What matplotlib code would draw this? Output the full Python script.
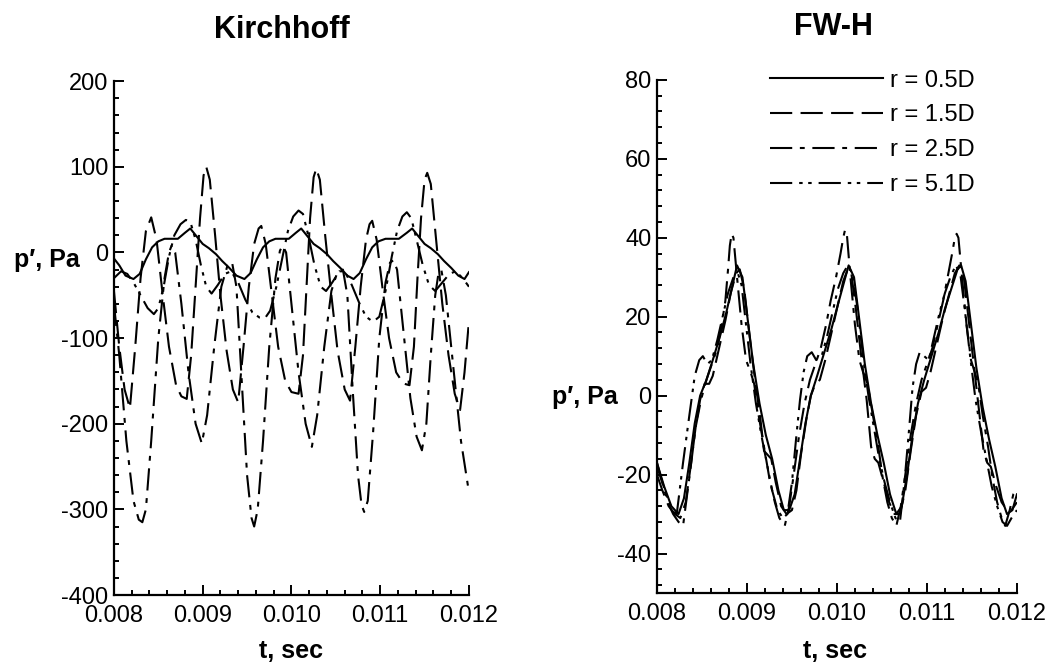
import matplotlib
matplotlib.use('Agg')
import matplotlib.pyplot as plt
from matplotlib.ticker import MultipleLocator, FormatStrFormatter

plt.rcParams['font.family'] = ['Liberation Sans', 'DejaVu Sans']
plt.rcParams['axes.unicode_minus'] = False
plt.rcParams['lines.scale_dashes'] = False

labels = ['r = 0.5D', 'r = 1.5D', 'r = 2.5D', 'r = 5.1D']

# ---- Kirchhoff panel (t in s, p' in Pa) ----
k_t_05 = [0.00800, 0.00806, 0.00813, 0.00822, 0.00829, 0.00836, 0.00843, 0.00850, 0.00857, 0.00865,
          0.00872, 0.00880, 0.00886, 0.00893, 0.00900, 0.00907, 0.00915, 0.00922, 0.00930, 0.00938,
          0.00947, 0.00954, 0.00961, 0.00968, 0.00975, 0.00982, 0.00990, 0.00997, 0.01005, 0.01011,
          0.01018, 0.01025, 0.01032, 0.01040, 0.01047, 0.01055, 0.01063, 0.01070, 0.01077, 0.01084,
          0.01091, 0.01098, 0.01106, 0.01114, 0.01121, 0.01130, 0.01136, 0.01143, 0.01150, 0.01157,
          0.01165, 0.01172, 0.01180, 0.01188, 0.01195, 0.01200]
k_p_05 = [-7, -15, -27, -31, -25, -8, 6, 13, 16, 16,
          16, 23, 28, 19, 10, 5, -2, -10, -18, -27,
          -31, -24, -8, 6, 13, 16, 16, 16, 23, 28,
          19, 10, 5, -2, -10, -18, -27, -31, -24, -8,
          6, 13, 16, 16, 16, 23, 28, 19, 10, 5,
          -2, -10, -18, -27, -31, -23]

k_t_15 = [0.00800, 0.00806, 0.00812, 0.00818, 0.00824, 0.00830, 0.00836, 0.00842, 0.00848, 0.00855,
          0.00862, 0.00870, 0.00876, 0.00882, 0.00887, 0.00892, 0.00897, 0.00901, 0.00904, 0.00908,
          0.00914, 0.00920, 0.00927, 0.00934, 0.00940, 0.00946, 0.00952, 0.00958, 0.00963, 0.00966,
          0.00971, 0.00978, 0.00985, 0.00993, 0.01000, 0.01008, 0.01013, 0.01017, 0.01021, 0.01025,
          0.01028, 0.01032, 0.01038, 0.01045, 0.01052, 0.01060, 0.01066, 0.01072, 0.01078, 0.01084,
          0.01088, 0.01091, 0.01096, 0.01103, 0.01110, 0.01118, 0.01126, 0.01133, 0.01138, 0.01142,
          0.01146, 0.01150, 0.01153, 0.01157, 0.01163, 0.01170, 0.01177, 0.01184, 0.01190, 0.01195,
          0.01200]
k_p_15 = [-45, -110, -160, -182, -110, -30, 25, 41, 15, -50,
          -110, -155, -168, -171, -120, -40, 40, 90, 100, 85,
          20, -50, -115, -160, -175, -110, -40, 10, 28, 31,
          10, -50, -110, -150, -163, -165, -120, -40, 40, 88,
          98, 85, 20, -50, -115, -160, -173, -110, -40, 15,
          33, 37, 15, -45, -100, -140, -153, -155, -110, -30,
          40, 85, 93, 80, 15, -60, -120, -165, -184, -140,
          -80]

k_t_25 = [0.00800, 0.00806, 0.00814, 0.00822, 0.00828, 0.00832, 0.00836, 0.00842, 0.00850, 0.00857,
          0.00862, 0.00865, 0.00869, 0.00876, 0.00884, 0.00892, 0.00899, 0.00905, 0.00913, 0.00921,
          0.00928, 0.00933, 0.00938, 0.00944, 0.00950, 0.00955, 0.00958, 0.00962, 0.00968, 0.00975,
          0.00982, 0.00987, 0.00990, 0.00994, 0.01000, 0.01008, 0.01016, 0.01023, 0.01029, 0.01037,
          0.01045, 0.01052, 0.01058, 0.01063, 0.01069, 0.01075, 0.01079, 0.01082, 0.01086, 0.01092,
          0.01099, 0.01106, 0.01111, 0.01115, 0.01119, 0.01126, 0.01134, 0.01141, 0.01147, 0.01152,
          0.01157, 0.01162, 0.01166, 0.01169, 0.01174, 0.01182, 0.01191, 0.01200]
k_p_25 = [-60, -120, -220, -290, -312, -315, -300, -220, -100, -30,
          0, 8, 0, -60, -140, -200, -223, -190, -110, -40,
          -15, -11, -40, -150, -260, -310, -320, -300, -220, -110,
          -30, 2, 8, 0, -60, -140, -200, -227, -190, -110,
          -45, -22, -20, -50, -160, -260, -295, -303, -290, -210,
          -100, -35, -12, -9, -20, -90, -170, -215, -231, -200,
          -120, -50, -22, -21, -50, -130, -220, -280]

k_t_51 = [0.00800, 0.00808, 0.00815, 0.00822, 0.00830, 0.00838, 0.00845, 0.00850, 0.00856, 0.00862,
          0.00868, 0.00875, 0.00881, 0.00886, 0.00892, 0.00898, 0.00904, 0.00910, 0.00917, 0.00925,
          0.00932, 0.00940, 0.00948, 0.00956, 0.00964, 0.00970, 0.00976, 0.00983, 0.00990, 0.00996,
          0.01002, 0.01008, 0.01013, 0.01019, 0.01026, 0.01033, 0.01039, 0.01046, 0.01054, 0.01060,
          0.01068, 0.01076, 0.01084, 0.01092, 0.01099, 0.01106, 0.01113, 0.01119, 0.01125, 0.01130,
          0.01135, 0.01141, 0.01148, 0.01155, 0.01162, 0.01170, 0.01178, 0.01185, 0.01193, 0.01200]
k_p_51 = [-30, -22, -25, -35, -50, -65, -72, -65, -40, -5,
          20, 33, 38, 36, 15, -15, -40, -48, -38, -25,
          -22, -35, -55, -70, -76, -77, -68, -40, -5, 25,
          42, 49, 45, 20, -15, -40, -45, -35, -22, -22,
          -38, -58, -75, -81, -75, -45, -5, 25, 42, 47,
          40, 15, -15, -38, -45, -35, -25, -22, -30, -40]

# ---- FW-H panel ----
f_t_05 = [0.00800, 0.00808, 0.00816, 0.00824, 0.00830, 0.00836, 0.00842, 0.00848, 0.00855, 0.00862,
          0.00870, 0.00877, 0.00883, 0.00889, 0.00895, 0.00901, 0.00907, 0.00914, 0.00921, 0.00928,
          0.00935, 0.00941, 0.00947, 0.00953, 0.00959, 0.00965, 0.00971, 0.00978, 0.00986, 0.00994,
          0.01001, 0.01007, 0.01013, 0.01019, 0.01025, 0.01031, 0.01038, 0.01045, 0.01052, 0.01059,
          0.01066, 0.01072, 0.01078, 0.01084, 0.01090, 0.01097, 0.01105, 0.01113, 0.01120, 0.01127,
          0.01134, 0.01138, 0.01143, 0.01149, 0.01155, 0.01162, 0.01169, 0.01176, 0.01183, 0.01189,
          0.01195, 0.01200]
f_p_05 = [-17, -23, -28, -30, -26, -17, -7, 0, 4, 9,
          15, 21, 27, 33, 30, 19, 8, -2, -10, -16,
          -24, -29, -29, -25, -16, -7, 0, 5, 11, 17,
          23, 28, 33, 30, 19, 8, -2, -10, -17, -25,
          -30, -28, -20, -10, -2, 4, 10, 16, 22, 27,
          32, 33, 29, 18, 7, -3, -11, -18, -26, -30,
          -29, -25]

f_t_15 = [0.00800, 0.00806, 0.00813, 0.00820, 0.00826, 0.00832, 0.00838, 0.00843, 0.00848, 0.00853,
          0.00858, 0.00862, 0.00869, 0.00876, 0.00882, 0.00888, 0.00892, 0.00897, 0.00903, 0.00909,
          0.00915, 0.00919, 0.00923, 0.00927, 0.00932, 0.00938, 0.00944, 0.00950, 0.00955, 0.00960,
          0.00966, 0.00971, 0.00976, 0.00981, 0.00987, 0.00994, 0.01001, 0.01007, 0.01012, 0.01016,
          0.01021, 0.01027, 0.01033, 0.01038, 0.01042, 0.01046, 0.01052, 0.01058, 0.01064, 0.01070,
          0.01076, 0.01082, 0.01088, 0.01094, 0.01099, 0.01104, 0.01111, 0.01118, 0.01125, 0.01131,
          0.01136, 0.01141, 0.01146, 0.01152, 0.01158, 0.01163, 0.01167, 0.01171, 0.01177, 0.01183,
          0.01189, 0.01194, 0.01200]
f_p_15 = [-20, -24, -28, -30, -31, -27, -17, -8, -1, 3,
          3, 5, 12, 19, 26, 31, 32, 27, 15, 4,
          -6, -14, -15, -16, -22, -28, -30, -29, -24, -15,
          -6, 0, 3, 4, 9, 16, 23, 29, 32, 31,
          22, 10, -1, -13, -16, -17, -22, -27, -30, -30,
          -24, -14, -5, 1, 2, 6, 13, 20, 26, 31,
          33, 30, 20, 8, -4, -14, -17, -18, -23, -27,
          -29, -29, -27]

f_t_25 = [0.00800, 0.00806, 0.00812, 0.00818, 0.00824, 0.00829, 0.00833, 0.00837, 0.00843, 0.00849,
          0.00855, 0.00861, 0.00867, 0.00872, 0.00876, 0.00879, 0.00881, 0.00883, 0.00885, 0.00889,
          0.00894, 0.00899, 0.00904, 0.00908, 0.00913, 0.00919, 0.00925, 0.00931, 0.00936, 0.00942,
          0.00947, 0.00952, 0.00958, 0.00964, 0.00970, 0.00976, 0.00982, 0.00988, 0.00993, 0.00999,
          0.01004, 0.01007, 0.01009, 0.01011, 0.01015, 0.01020, 0.01025, 0.01029, 0.01034, 0.01040,
          0.01046, 0.01051, 0.01056, 0.01061, 0.01066, 0.01071, 0.01076, 0.01082, 0.01088, 0.01094,
          0.01100, 0.01106, 0.01112, 0.01118, 0.01123, 0.01128, 0.01131, 0.01133, 0.01135, 0.01139,
          0.01144, 0.01149, 0.01153, 0.01157, 0.01162, 0.01168, 0.01173, 0.01178, 0.01183, 0.01187,
          0.01192, 0.01196, 0.01200]
f_p_25 = [-17, -22, -27, -30, -32, -33, -26, -19, -8, -1,
          4, 8, 12, 18, 24, 32, 38, 41, 40, 30,
          18, 9, 6, 3, -5, -13, -21, -27, -31, -33,
          -28, -20, -10, -2, 4, 8, 12, 18, 24, 30,
          36, 40, 42, 41, 30, 18, 9, 6, 3, -5,
          -13, -21, -27, -31, -33, -28, -20, -10, -2, 4,
          8, 12, 18, 24, 30, 36, 40, 41, 40, 30,
          18, 9, 6, 3, -5, -13, -21, -27, -31, -33,
          -29, -25, -24]

f_t_51 = [0.00800, 0.00806, 0.00812, 0.00817, 0.00822, 0.00829, 0.00836, 0.00842, 0.00847, 0.00851,
          0.00856, 0.00861, 0.00867, 0.00873, 0.00879, 0.00885, 0.00890, 0.00894, 0.00899, 0.00904,
          0.00910, 0.00916, 0.00922, 0.00928, 0.00934, 0.00940, 0.00945, 0.00950, 0.00955, 0.00959,
          0.00963, 0.00967, 0.00972, 0.00977, 0.00983, 0.00989, 0.00995, 0.01001, 0.01007, 0.01012,
          0.01017, 0.01023, 0.01029, 0.01035, 0.01041, 0.01047, 0.01053, 0.01059, 0.01065, 0.01070,
          0.01075, 0.01080, 0.01084, 0.01088, 0.01092, 0.01097, 0.01102, 0.01108, 0.01114, 0.01120,
          0.01126, 0.01132, 0.01137, 0.01142, 0.01148, 0.01154, 0.01160, 0.01166, 0.01172, 0.01178,
          0.01184, 0.01189, 0.01194, 0.01200]
f_p_51 = [-18, -22, -26, -29, -30, -17, -5, 5, 9, 10,
          8, 9, 14, 20, 26, 30, 31, 28, 18, 8,
          -2, -10, -17, -24, -29, -31, -30, -22, -10, -1,
          6, 10, 11, 9, 10, 15, 21, 27, 31, 33,
          31, 22, 10, 0, -8, -16, -22, -27, -31, -32,
          -22, -9, 2, 8, 11, 10, 9, 15, 21, 26,
          30, 33, 31, 22, 10, -1, -9, -16, -23, -28,
          -32, -33, -31, -29]

styles = [
    dict(linestyle='-'),
    dict(linestyle=(0, (16, 6))),
    dict(linestyle=(0, (16, 5.5, 3.5, 5.5))),
    dict(linestyle=(0, (16, 5, 2.5, 4, 2.5, 5))),
]

fig = plt.figure(figsize=(10.55, 6.69), dpi=100)
ax1 = fig.add_axes([0.108, 0.1106, 0.3365, 0.768])
ax2 = fig.add_axes([0.6227, 0.1136, 0.3412, 0.767])


def style_axes(ax, ylim, ymajor, yminor):
    ax.set_xlim(0.008, 0.012)
    ax.set_ylim(*ylim)
    ax.xaxis.set_major_locator(MultipleLocator(0.001))
    ax.xaxis.set_minor_locator(MultipleLocator(0.0002))
    ax.xaxis.set_major_formatter(FormatStrFormatter('%.3f'))
    ax.yaxis.set_major_locator(MultipleLocator(ymajor))
    ax.yaxis.set_minor_locator(MultipleLocator(yminor))
    ax.yaxis.set_major_formatter(FormatStrFormatter('%d'))
    for s in ['top', 'right']:
        ax.spines[s].set_visible(False)
    for s in ['left', 'bottom']:
        ax.spines[s].set_linewidth(1.6)
    ax.tick_params(which='both', direction='in', width=1.4, labelsize=17)
    ax.tick_params(which='major', length=7.5)
    ax.tick_params(which='minor', length=3.8)
    ax.tick_params(axis='y', pad=4)
    ax.tick_params(axis='x', pad=7)


kir = [(k_t_05, k_p_05), (k_t_15, k_p_15), (k_t_25, k_p_25), (k_t_51, k_p_51)]
fwh = [(f_t_05, f_p_05), (f_t_15, f_p_15), (f_t_25, f_p_25), (f_t_51, f_p_51)]

for (t, p), st in zip(kir, styles):
    ax1.plot(t, p, color='black', lw=1.5, **st)
for (t, p), st, lab in zip(fwh, styles, labels):
    ax2.plot(t, p, color='black', lw=1.5, label=lab, **st)

style_axes(ax1, (-400, 200), 100, 20)
style_axes(ax2, (-50, 80), 20, 4)

for ax, xy, xl in [(ax1, (-0.19, 0.639), (0.5, -0.123)), (ax2, (-0.2, 0.368), (0.494, -0.127))]:
    ax.text(xy[0], xy[1], 'p\u2032, Pa', transform=ax.transAxes, ha='center', va='baseline',
            fontsize=18, fontweight='bold')
    ax.text(xl[0], xl[1], 't, sec', transform=ax.transAxes, ha='center', va='baseline',
            fontsize=18, fontweight='bold')

fig.text(0.267, 0.955, 'Kirchhoff', ha='center', va='center', fontsize=22, fontweight='bold')
fig.text(0.79, 0.96, 'FW-H', ha='center', va='center', fontsize=22, fontweight='bold')

ax2.legend(loc='upper right', bbox_to_anchor=(0.883, 1.02), frameon=False, fontsize=17,
           handlelength=4.8, handletextpad=0.3, labelspacing=0.54, borderpad=0, borderaxespad=0)

fig.savefig('out.png', dpi=100)
